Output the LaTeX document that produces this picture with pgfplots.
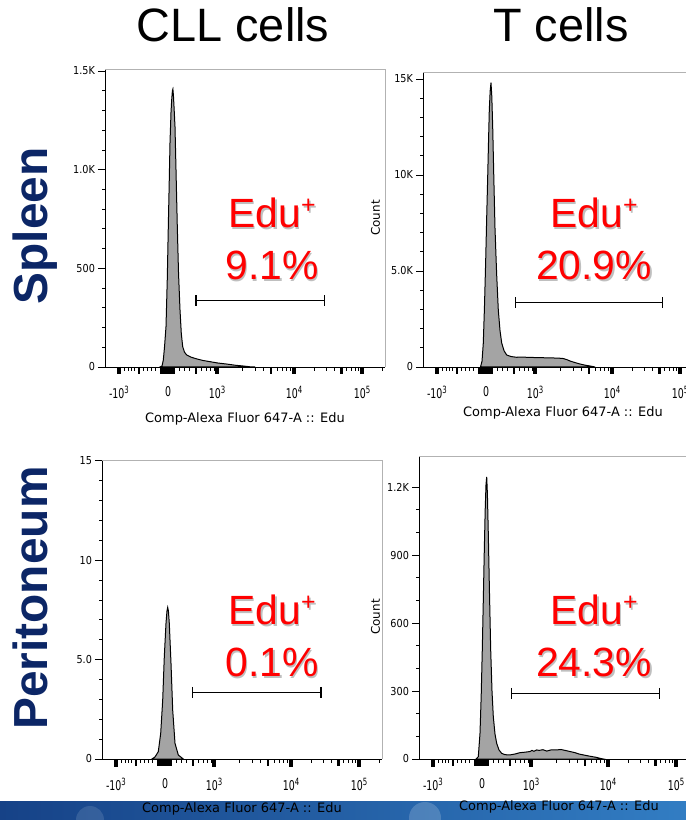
\documentclass[border=0pt]{standalone}
\usepackage{pgfplots}
\pgfplotsset{compat=1.18}
\usepackage{fontspec}
\setmainfont{Liberation Sans}
\newfontfamily\dv{DejaVu Sans}
\definecolor{navy}{RGB}{12,38,102}
\definecolor{histfill}{RGB}{164,164,164}
\definecolor{edured}{RGB}{255,0,0}
\definecolor{bandL}{RGB}{22,66,135}
\definecolor{bandR}{RGB}{50,125,195}
\newcommand{\dec}[1]{10\raisebox{5bp}{\fontsize{10}{10}\selectfont #1}}

\pgfplotsset{
  facs/.style={
    scale only axis, width=280bp,
    axis lines=left, axis line style={-, black, line width=0.9bp},
    xmin=0, xmax=280, ymin=0, clip=false,
    scaled y ticks=false, scaled x ticks=false,
    tick align=outside, major tick length=7bp, minor tick length=3bp,
    xtick={14,63,112,189,257},
    xticklabels={-\dec{3},0,\dec{3},\dec{4},\dec{5}},
    major y tick style={line width=0.9bp, black},
    minor y tick style={line width=0.7bp, black},
    yticklabel style={font=\dv\fontsize{11}{11}\selectfont, xscale=0.88},
    xticklabel style={font=\dv\fontsize{13.5}{13.5}\selectfont, xscale=0.7, yshift=-9bp},
    label style={font=\dv\fontsize{13}{14}\selectfont},
    xlabel={Comp-Alexa Fluor 647-A :: Edu},
    xlabel style={at={(rel axis cs:0.5,0)}, anchor=base},
  },
  hist/.style={draw=black, line width=1bp, fill=histfill},
  gate/.style={black, line width=1.1bp, mark=|, mark size=5.5bp, mark options={solid}},
}
% biexponential tick marks (axis units = bp along x)
\newcommand{\xtickmarks}{%
  \pgfplotsinvokeforeach{14,112,189,257}{\draw[black, line width=3.2bp] (axis cs:##1,0) -- ++(0,-7.5bp);}
  \pgfplotsinvokeforeach{34.3,91,165.8,236.5}{\draw[black, line width=2.2bp] (axis cs:##1,0) -- ++(0,-6.7bp);}
  \pgfplotsinvokeforeach{19.3,23.3,26,29,38.3,42.3,46.7,50.7,74,79,84.3,96.7,101.7,105,109,137,150,158.4,172,177,181.5,185,209.5,221.4,229.9,241.9,246.5,250.4,253.9,277}{\draw[black, line width=1bp] (axis cs:##1,0) -- ++(0,-4bp);}
  \fill[black] (axis cs:55,0) rectangle ++(15bp,-6.7bp);
}
\newcommand{\frameit}{\draw[black!30, line width=0.8bp] (rel axis cs:0,1) -- (rel axis cs:1,1) -- (rel axis cs:1,0);}
\newcommand{\edutext}[3]{%
  \node[anchor=base, text=black!25, font=\fontsize{41}{41}\selectfont] at (#1bp+1.5bp, #2bp-1.5bp) {Edu\raisebox{14bp}{\fontsize{25}{25}\selectfont +}};
  \node[anchor=base, text=edured, font=\fontsize{41}{41}\selectfont] at (#1bp, #2bp) {Edu\raisebox{14bp}{\fontsize{25}{25}\selectfont +}};
  \node[anchor=base, text=black!25, font=\fontsize{41}{41}\selectfont] at (#1bp+1.5bp, #2bp-53.5bp) {#3};
  \node[anchor=base, text=edured, font=\fontsize{41}{41}\selectfont] at (#1bp, #2bp-52bp) {#3};
}

\begin{document}
\begin{tikzpicture}
\useasboundingbox (0,0) rectangle (686bp,820bp);
\clip (0,0) rectangle (686bp,820bp);
\fill[white] (0,0) rectangle (686bp,820bp);
\shade[left color=bandL, right color=bandR] (0,0) rectangle (686bp,18bp);
\fill[white, opacity=0.12] (90bp,0) circle (14bp);
\fill[white, opacity=0.18] (425bp,2bp) circle (16bp);

% titles
\node[anchor=base, font=\fontsize{47}{47}\selectfont] at (233bp,778bp) {CLL cells};
\node[anchor=base, font=\fontsize{47}{47}\selectfont] at (561bp,778bp) {T cells};
\node[rotate=90, anchor=base, text=navy, font=\bfseries\fontsize{48}{48}\selectfont] at (47bp,594bp) {Spleen};
\node[rotate=90, anchor=base, text=navy, font=\bfseries\fontsize{48}{48}\selectfont] at (47bp,222bp) {Peritoneum};
\node[rotate=90, font=\dv\fontsize{12}{12}\selectfont] at (375.5bp,602bp) {Count};
\node[rotate=90, font=\dv\fontsize{12}{12}\selectfont] at (375.5bp,203bp) {Count};

% Panel 1: CLL spleen
\begin{axis}[facs, at={(105bp,453bp)}, anchor=south west, height=298bp,
  ymax=1510, ytick={0,500,1000,1500}, yticklabels={0,500,1.0K,1.5K}, minor y tick num=4,
  xlabel style={yshift=-56bp}]
\addplot[hist] coordinates {(55,0) (57,5) (58.3,35) (59.5,100) (61,204) (62.3,450) (63.3,711) (64.2,930) (65,1136) (66,1290) (66.7,1354) (67.4,1400) (67.9,1408) (68.5,1370) (69.2,1300) (70,1218) (71,1000) (72.3,711) (73.5,480) (75,289) (76.3,170) (77.7,103) (79.5,75) (81.7,61) (86,50) (91.7,41) (98,33) (105,27) (113,20) (121.7,15) (130,9) (138.3,5) (145,1) (150,0)} \closedcycle;
\addplot[gate] coordinates {(91,336) (219.3,336)};
\frameit
\xtickmarks
\end{axis}

% Panel 2: T spleen
\begin{axis}[facs, at={(423bp,453bp)}, anchor=south west, height=295bp,
  ymax=15365, ytick={0,5000,10000,15000}, yticklabels={0,5.0K,10K,15K}, minor y tick num=4,
  xlabel style={yshift=-50bp}]
\addplot[hist] coordinates {(57.5,0) (59,300) (60.3,1250) (61.5,3200) (62.7,5573) (63.7,7800) (64.7,9911) (65.5,11700) (66.3,13385) (67.2,14400) (68,14806) (68.8,14100) (69.7,12515) (70.8,9900) (72,7223) (73.6,4900) (75.3,2969) (77,1900) (78.7,1250) (81,850) (83.7,625) (88,545) (93.7,505) (97,520) (100.3,512) (107,500) (113.7,490) (122,480) (130.3,470) (136,460) (140.3,440) (144,380) (147,312) (152,230) (157,156) (162,95) (167,52) (170,20) (172,0)} \closedcycle;
\addplot[gate] coordinates {(92.7,3349) (239.7,3349)};
\frameit
\xtickmarks
\end{axis}

% Panel 3: CLL peritoneum
\begin{axis}[facs, at={(102bp,61bp)}, anchor=south west, height=299bp,
  ymax=15.03, ytick={0,5,10,15}, yticklabels={0,5.0,10,15}, minor y tick num=4,
  xlabel style={yshift=-53bp}]
\addplot[hist] coordinates {(50,0) (53,0.1) (56.3,0.37) (58.7,1.29) (60.7,2.96) (62.3,5.14) (64,6.82) (65,7.45) (65.7,7.62) (66.4,7.45) (67.3,6.82) (69,4.81) (70.7,2.46) (73,0.79) (76.3,0.2) (81.3,0)} \closedcycle;
\addplot[gate] coordinates {(90.7,3.35) (219,3.35)};
\frameit
\xtickmarks
\end{axis}

% Panel 4: T peritoneum
\begin{axis}[facs, at={(419bp,61bp)}, anchor=south west, height=303bp,
  ymax=1337, ytick={0,300,600,900,1200}, yticklabels={0,300,600,900,1.2K}, minor y tick num=2,
  xlabel style={yshift=-51bp}]
\addplot[hist] coordinates {(57,0) (59.3,10) (61,113) (62.2,280) (63.3,485) (64.3,700) (65.3,922) (66.2,1100) (67,1210) (67.7,1245) (68.4,1170) (69.3,995) (70.5,730) (71.7,481) (73,300) (74.3,187) (76,110) (77.7,69) (80,40) (82.7,25) (86,19) (91,18) (96,22) (101,28) (106,30) (111,33) (113,38) (115,34) (117.7,40) (120,38) (124,41) (127.7,35) (132,40) (137.7,40) (142,42) (146,38) (151,33) (156,28) (160,22) (164.3,18) (170,13) (175,9) (177.7,7) (181,3) (184.3,0)} \closedcycle;
\addplot[gate] coordinates {(92.7,290) (240.3,290)};
\frameit
\xtickmarks
\end{axis}

% red annotations
\edutext{272}{592}{9.1\%}
\edutext{594}{592}{20.9\%}
\edutext{272}{195}{0.1\%}
\edutext{594}{195}{24.3\%}
\end{tikzpicture}
\end{document}
